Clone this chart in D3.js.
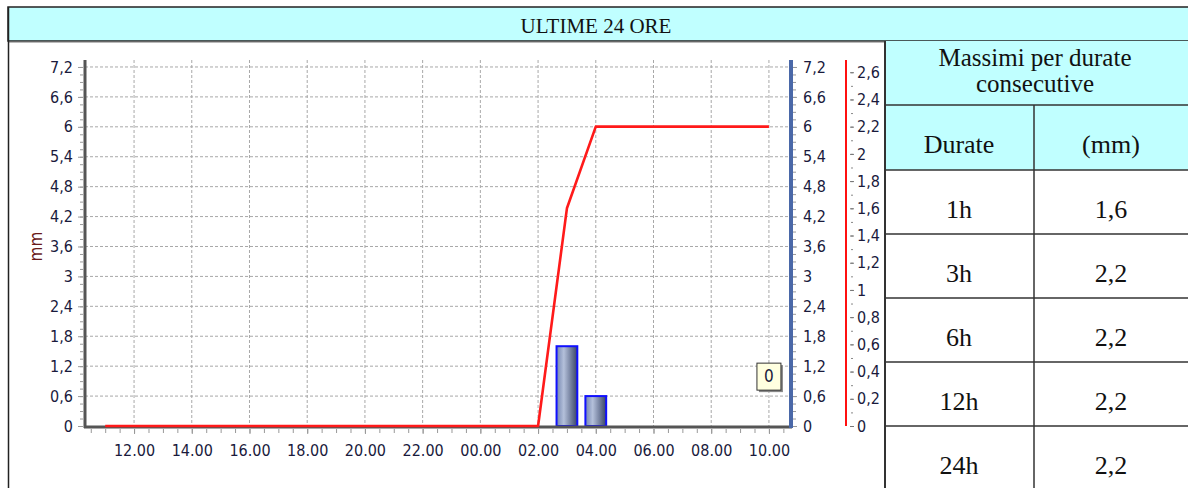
<!DOCTYPE html>
<html>
<head>
<meta charset="utf-8">
<script src="https://cdn.jsdelivr.net/npm/d3@7"></script>
<style>
  body { margin: 0; background: #fff; }
  svg { display: block; }
  .lab { font-family: "DejaVu Sans Condensed", "DejaVu Sans", sans-serif; font-size: 15px; fill: #1a1a3c; }
  .ser { font-family: "Liberation Serif", "Times New Roman", serif; fill: #111; }
</style>
</head>
<body>
<svg width="1188" height="488"></svg>
<script>
// hours counted from midnight of the first day (11 = 11.00, 34 = 10.00 next day)
const hours = [11,12,13,14,15,16,17,18,19,20,21,22,23,24,25,26,27,28,29,30,31,32,33,34];
const hourlyRain = [0,0,0,0,0,0,0,0,0,0,0,0,0,0,0,0,1.6,0.6,0,0,0,0,0,0];
const cumulRain  = [0,0,0,0,0,0,0,0,0,0,0,0,0,0,0,0,1.6,2.2,2.2,2.2,2.2,2.2,2.2,2.2];
const xTicks = [12,14,16,18,20,22,24,26,28,30,32,34];
const leftTicks = [0,0.6,1.2,1.8,2.4,3,3.6,4.2,4.8,5.4,6,6.6,7.2];
const redTicks = [0,0.2,0.4,0.6,0.8,1,1.2,1.4,1.6,1.8,2,2.2,2.4,2.6];
const durations = ["1h","3h","6h","12h","24h"];
const maxima = [1.6,2.2,2.2,2.2,2.2];
const lastValue = 0;

const svg = d3.select("svg");
const it = d3.formatLocale({decimal: ",", thousands: ".", grouping: [3], currency: ["", "€"]});
const fmt = it.format(".1~f");

const plot = {left: 85, right: 790, top: 60, bottom: 426};
const x = d3.scaleLinear().domain([10.3, 34.73]).range([plot.left, plot.right]);
const yL = d3.scaleLinear().domain([0, 7.34]).range([plot.bottom, plot.top]);
const yR = d3.scaleLinear().domain([0, 2.69]).range([plot.bottom, plot.top]);

// frame + title
svg.append("rect").attr("x", 8).attr("y", 7).attr("width", 1190).attr("height", 34)
  .attr("fill", "#c0ffff").attr("stroke", "#222").attr("stroke-width", 1.5);
svg.append("line").attr("x1", 8).attr("x2", 1188).attr("y1", 42).attr("y2", 42)
  .attr("stroke", "#777").attr("stroke-width", 1);
svg.append("line").attr("x1", 8.5).attr("x2", 8.5).attr("y1", 7).attr("y2", 488)
  .attr("stroke", "#222").attr("stroke-width", 1.5);
svg.append("text").attr("class", "ser").attr("x", 596).attr("y", 33)
  .attr("text-anchor", "middle").style("font-size", "21px").text("ULTIME 24 ORE");

// grid
const g = svg.append("g");
g.selectAll(".hg").data(leftTicks.filter(d => d > 0)).enter().append("line")
  .attr("x1", plot.left).attr("x2", plot.right)
  .attr("y1", d => yL(d)).attr("y2", d => yL(d))
  .attr("stroke", "#a8a8a8").attr("stroke-dasharray", "3,2");
g.selectAll(".vg").data(xTicks).enter().append("line")
  .attr("x1", d => x(d)).attr("x2", d => x(d))
  .attr("y1", plot.top).attr("y2", plot.bottom)
  .attr("stroke", "#a8a8a8").attr("stroke-dasharray", "3,2");

function styleAxis(sel, color) {
  sel.attr("font-size", null).attr("font-family", null);
  sel.select(".domain").remove();
  sel.selectAll("line").attr("stroke", color);
  sel.selectAll("text").attr("class", "lab").attr("fill", null).style("font-size", "16px");
}

// left axis
const minorL = d3.range(0, 49).map(i => i * 0.15);
svg.append("g").attr("transform", `translate(${plot.left - 2},0)`)
  .call(d3.axisLeft(yL).tickValues(minorL).tickFormat("").tickSize(3))
  .call(s => styleAxis(s, "#999"));
svg.append("g").attr("transform", `translate(${plot.left - 2},0)`)
  .call(d3.axisLeft(yL).tickValues(leftTicks).tickFormat(fmt).tickSize(5).tickPadding(5))
  .call(s => styleAxis(s, "#999"));
svg.append("text").attr("class", "lab")
  .attr("transform", `translate(42,${yL(3.6)}) rotate(-90)`)
  .attr("text-anchor", "middle").style("fill", "#6a1a1a")
  .style("font-size", "17px").text("mm");

// bottom axis
const minorX = d3.range(0, 49).map(i => 10.5 + i * 0.5).filter(d => d < 34.73);
svg.append("g").attr("transform", `translate(0,${plot.bottom + 3})`)
  .call(d3.axisBottom(x).tickValues(minorX).tickFormat("").tickSize(4))
  .call(s => styleAxis(s, "#999"));
svg.append("g").attr("transform", `translate(0,${plot.bottom + 3})`)
  .call(d3.axisBottom(x).tickValues(xTicks)
    .tickFormat(h => String(h % 24).padStart(2, "0") + ".00").tickSize(5).tickPadding(11))
  .call(s => styleAxis(s, "#999"));

// blue right axis
svg.append("g").attr("transform", `translate(${plot.right + 3},0)`)
  .call(d3.axisRight(yL).tickValues(minorL).tickFormat("").tickSize(3))
  .call(s => styleAxis(s, "#999"));
svg.append("g").attr("transform", `translate(${plot.right + 3},0)`)
  .call(d3.axisRight(yL).tickValues(leftTicks).tickFormat(fmt).tickSize(4).tickPadding(6))
  .call(s => styleAxis(s, "#999"));

// red axis
const redX = 846;
svg.append("g").attr("transform", `translate(${redX + 5},0)`)
  .call(d3.axisRight(yR).tickValues(d3.range(0, 27).map(i => i * 0.1)).tickFormat("").tickSize(2))
  .call(s => styleAxis(s, "#888"));
svg.append("g").attr("transform", `translate(${redX + 4},0)`)
  .call(d3.axisRight(yR).tickValues(redTicks).tickFormat(fmt).tickSize(4).tickPadding(3))
  .call(s => styleAxis(s, "#777"));
svg.append("line").attr("x1", redX).attr("x2", redX).attr("y1", plot.top).attr("y2", plot.bottom)
  .attr("stroke", "#ff1010").attr("stroke-width", 2);

// bars
const defs = svg.append("defs");
const grad = defs.append("linearGradient").attr("id", "barg").attr("x1", 0).attr("x2", 1).attr("y1", 0).attr("y2", 0);
grad.append("stop").attr("offset", "0%").attr("stop-color", "#7486b0");
grad.append("stop").attr("offset", "35%").attr("stop-color", "#b4c0da");
grad.append("stop").attr("offset", "100%").attr("stop-color", "#384466");
const barW = x(0.72) - x(0);
const bars = hours.map((h, i) => ({h, v: hourlyRain[i]})).filter(d => d.v > 0);
svg.append("g").selectAll("rect").data(bars).enter().append("rect")
  .attr("x", d => x(d.h) - barW / 2).attr("width", barW)
  .attr("y", d => yL(d.v)).attr("height", d => yL(0) - yL(d.v))
  .attr("fill", "url(#barg)").attr("stroke", "#1010ff").attr("stroke-width", 2);

// axis lines
svg.append("line").attr("x1", plot.left).attr("x2", plot.left).attr("y1", plot.top).attr("y2", plot.bottom + 2)
  .attr("stroke", "#555").attr("stroke-width", 3);
svg.append("line").attr("x1", plot.left - 1).attr("x2", plot.right + 2).attr("y1", plot.bottom + 1).attr("y2", plot.bottom + 1)
  .attr("stroke", "#555").attr("stroke-width", 3);
svg.append("line").attr("x1", plot.right + 1).attr("x2", plot.right + 1).attr("y1", plot.top).attr("y2", plot.bottom + 2)
  .attr("stroke", "#4a68a8").attr("stroke-width", 4);

// cumulative line
const line = d3.line().x((d, i) => x(hours[i])).y(d => yR(d));
svg.append("path").datum(cumulRain).attr("d", line)
  .attr("fill", "none").attr("stroke", "#ff1a1a").attr("stroke-width", 2.6).attr("stroke-linejoin", "round");

// value box
const bx = x(hours[hours.length - 1]), by = yL(1.0);
svg.append("rect").attr("x", bx - 10).attr("y", by - 11).attr("width", 24).attr("height", 27).attr("fill", "#888");
svg.append("rect").attr("x", bx - 12).attr("y", by - 13).attr("width", 24).attr("height", 27)
  .attr("fill", "#ffffe0").attr("stroke", "#333").attr("stroke-width", 1);
svg.append("text").attr("class", "lab").attr("x", bx).attr("y", by + 6)
  .attr("text-anchor", "middle").style("font-size", "17px").text(fmt(lastValue));

// table
const tX = 885, tR = 1188, tMid = 1034, rowH = 64;
const tb = svg.append("g");
tb.append("rect").attr("x", tX).attr("y", 41).attr("width", tR - tX).attr("height", 129).attr("fill", "#c0ffff");
const rowTops = durations.map((d, i) => 170 + i * rowH);
tb.selectAll(".hl").data([105, 170].concat(rowTops.slice(1))).enter().append("line")
  .attr("x1", tX).attr("x2", tR).attr("y1", d => d).attr("y2", d => d)
  .attr("stroke", "#333").attr("stroke-width", 1.5);
tb.append("line").attr("x1", tX).attr("x2", tX).attr("y1", 41).attr("y2", 488).attr("stroke", "#333").attr("stroke-width", 2);
tb.append("line").attr("x1", tMid).attr("x2", tMid).attr("y1", 105).attr("y2", 488).attr("stroke", "#333").attr("stroke-width", 1.5);
const fs = "26px";
tb.append("text").attr("class", "ser").attr("x", 1035).attr("y", 66).attr("text-anchor", "middle")
  .style("font-size", "25px").text("Massimi per durate");
tb.append("text").attr("class", "ser").attr("x", 1035).attr("y", 92).attr("text-anchor", "middle")
  .style("font-size", "25px").text("consecutive");
tb.append("text").attr("class", "ser").attr("x", 959).attr("y", 153).attr("text-anchor", "middle")
  .style("font-size", fs).text("Durate");
tb.append("text").attr("class", "ser").attr("x", 1111).attr("y", 153).attr("text-anchor", "middle")
  .style("font-size", fs).text("(mm)");
tb.selectAll(".dur").data(durations).enter().append("text").attr("class", "ser")
  .attr("x", 959).attr("y", (d, i) => rowTops[i] + 48).attr("text-anchor", "middle")
  .style("font-size", fs).text(d => d);
tb.selectAll(".mx").data(maxima).enter().append("text").attr("class", "ser")
  .attr("x", 1111).attr("y", (d, i) => rowTops[i] + 48).attr("text-anchor", "middle")
  .style("font-size", fs).text(d => fmt(d));
</script>
</body>
</html>
